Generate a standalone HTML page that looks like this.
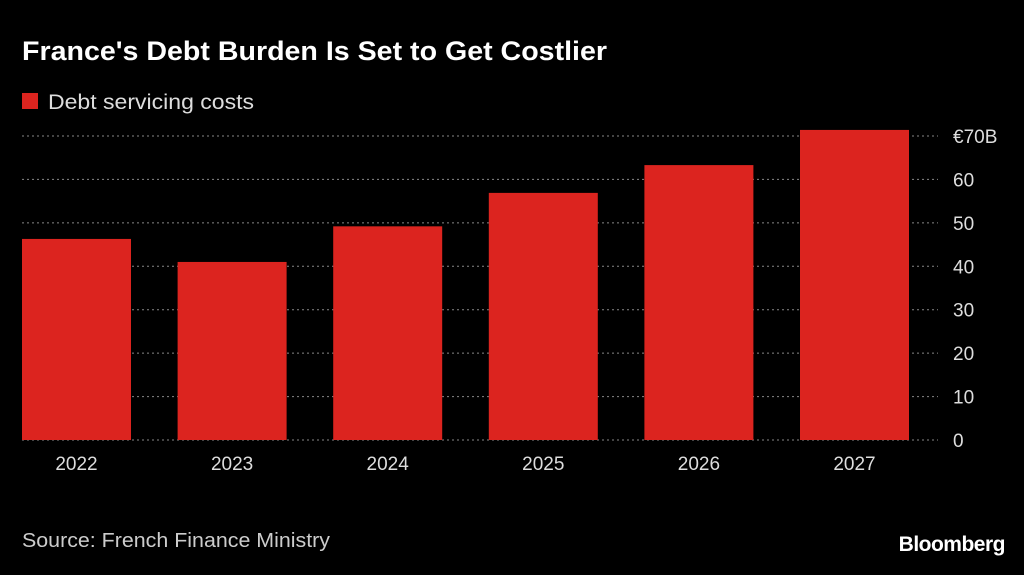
<!DOCTYPE html>
<html><head><meta charset="utf-8"><style>
body{margin:0;background:#000;width:1024px;height:570px;overflow:hidden;font-family:"Liberation Sans",sans-serif;color:#fff}
</style></head><body>
<svg width="1024" height="570" xmlns="http://www.w3.org/2000/svg">
<text x="22" y="60" font-size="27" font-weight="bold" fill="#fff" textLength="585" lengthAdjust="spacingAndGlyphs">France's Debt Burden Is Set to Get Costlier</text>
<rect x="22" y="93" width="16" height="16" fill="#dc241f"/>
<text x="48" y="109" font-size="21" fill="#ddd" textLength="206" lengthAdjust="spacingAndGlyphs">Debt servicing costs</text>
<g id="grid"></g><g id="bars"></g><g id="xlabels"></g><g id="ylabels"></g>
<text x="22" y="547" font-size="20" fill="#ccc" textLength="308" lengthAdjust="spacingAndGlyphs">Source: French Finance Ministry</text>
<text x="1005" y="551" font-size="21" font-weight="bold" fill="#fff" text-anchor="end" letter-spacing="-0.5">Bloomberg</text>
</svg>
<script>
const categories=["2022","2023","2024","2025","2026","2027"];
const values=[46.3,41.0,49.2,56.9,63.3,71.4];
const ticks=[0,10,20,30,40,50,60,70];
const tickLabels=["0","10","20","30","40","50","60","€70B"];
const NS="http://www.w3.org/2000/svg";
const y=v=>440-v*(304/70);
const x0=22,step=155.6,bw=109;
function mk(t,a,p){const e=document.createElementNS(NS,t);for(const k in a)e.setAttribute(k,a[k]);p.appendChild(e);return e;}
const g=document.getElementById('grid'),b=document.getElementById('bars'),xl=document.getElementById('xlabels'),yl=document.getElementById('ylabels');
ticks.forEach((t,i)=>{
 const l=mk('line',{x1:22,x2:938,y1:y(t),y2:y(t),stroke:'#888','stroke-width':1,'stroke-dasharray':'2,3'},g);
 
 
 const tx=mk('text',{x:953,y:y(t)+7,'font-size':19,fill:'#ddd'},yl);
 tx.textContent=tickLabels[i];
 
 
});
categories.forEach((c,i)=>{
 const r=mk('rect',{x:x0+i*step,y:y(values[i]),width:bw,height:y(0)-y(values[i]),fill:'#dc241f'},b);
 
 
 const t=mk('text',{x:x0+i*step+bw/2,y:470,'font-size':19,fill:'#ddd','text-anchor':'middle'},xl);
 t.textContent=c;
 
 
});
</script>
</body></html>
